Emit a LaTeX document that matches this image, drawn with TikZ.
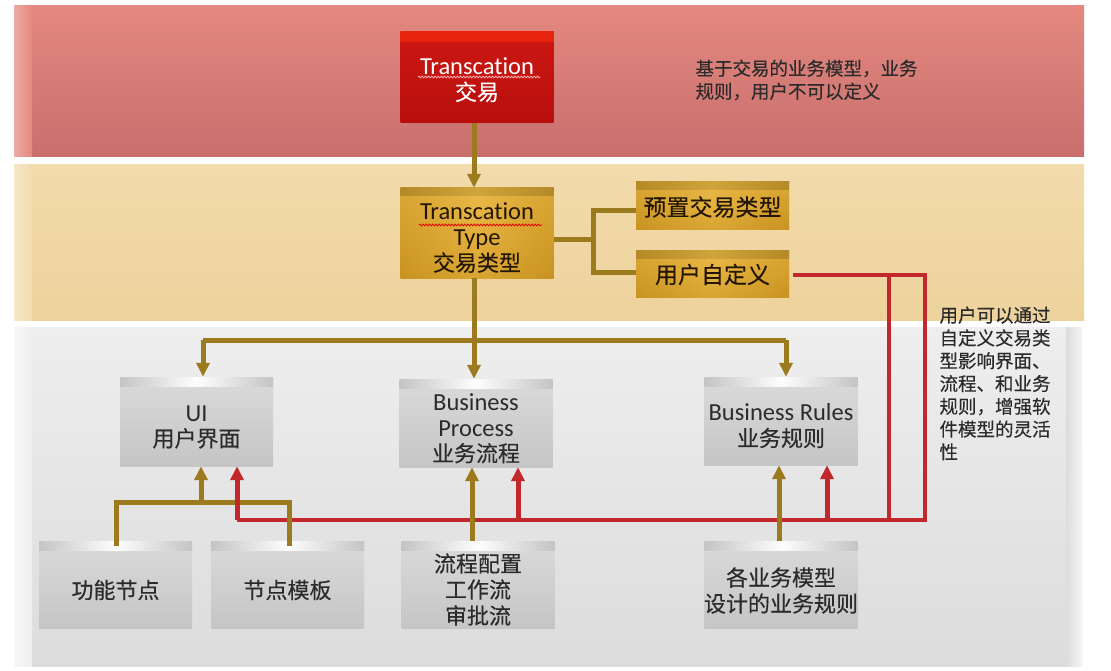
\documentclass[tikz,border=0pt]{standalone}
\usepackage{fontspec}
\setmainfont{Carlito}[Ligatures={NoCommon}]
\newfontfamily\cjk{Noto Sans CJK SC}[FakeBold=0.3]
\usetikzlibrary{arrows.meta,decorations.pathmorphing}
\definecolor{RbT}{HTML}{E4887F}
\definecolor{RbB}{HTML}{C86F6E}
\definecolor{TbT}{HTML}{F2DBAC}
\definecolor{TbB}{HTML}{EDD29C}
\definecolor{GbT}{HTML}{EEEEEE}
\definecolor{GbB}{HTML}{DCDCDC}
\definecolor{RedTop}{HTML}{E8240E}
\definecolor{RedA}{HTML}{CC1712}
\definecolor{RedB}{HTML}{B80F0E}
\definecolor{GoldTop}{HTML}{B48A28}
\definecolor{GoldTopM}{HTML}{CFA43C}
\definecolor{GoldA}{HTML}{DDA832}
\definecolor{GoldB}{HTML}{EAB948}
\definecolor{GoldC}{HTML}{C8921E}
\definecolor{GoldE}{HTML}{C99424}
\definecolor{GrTop}{HTML}{C4C4C4}
\definecolor{GrA}{HTML}{DADADA}
\definecolor{GrB}{HTML}{C5C5C5}
\definecolor{Brn}{HTML}{9C7B1E}
\definecolor{Rdl}{HTML}{C2282B}
\definecolor{TxtD}{HTML}{2B2B2B}
\definecolor{TxtG}{HTML}{241604}
\begin{document}
\begin{tikzpicture}[x=1pt,y=-1pt,
  box/.style={inner sep=0pt,minimum width=#1},
  box/.default=153pt,
  redbox/.style={box,top color=RedA,bottom color=RedB,
    path picture={\shade[top color=RedTop,bottom color=RedA]
      (path picture bounding box.north west) rectangle ([yshift=-10pt]path picture bounding box.north east);}},
  goldbox/.style={box,top color=GoldB,bottom color=GoldC,middle color=GoldA,
    path picture={
      \shade[left color=GoldE,right color=GoldE,middle color=GoldB,opacity=0.5]
        (path picture bounding box.south west) rectangle (path picture bounding box.north east);
      \shade[left color=GoldTop,right color=GoldTop,middle color=GoldTopM]
      (path picture bounding box.north west) rectangle ([yshift=-8pt]path picture bounding box.north east);}},
  graybox/.style={box,top color=GrA,bottom color=GrB,
    path picture={\shade[left color=GrTop,right color=GrTop,middle color=white!96!GrA]
      (path picture bounding box.north west) rectangle ([yshift=-9pt]path picture bounding box.north east);}},
  txt/.style={inner sep=0pt,align=center},
  lat/.style={txt,font=\fontsize{24.5}{25.5}\selectfont},
  zh/.style={txt,font=\cjk\fontsize{22}{26}\selectfont},
  brn/.style={draw=Brn,line width=5pt},
  brnA/.style={brn,-{Triangle[width=13pt,length=14pt]}},
  rd/.style={draw=Rdl,line width=4pt},
  rdA/.style={draw=Rdl,line width=5pt,-{Triangle[width=13pt,length=14pt]}},
  squig/.style={line width=0.8pt,decorate,decoration={snake,amplitude=0.9pt,segment length=3.2pt}}
]
\useasboundingbox (0,0) rectangle (1111,671);
\fill[white] (0,0) rectangle (1111,671);
% bands
\shade[top color=RbT,bottom color=RbB] (14,6) rectangle (1084,157);
\shade[left color=white!30!RbT,right color=RbT] (14,6) rectangle (32,157);
\shade[top color=TbT,bottom color=TbB] (14,165) rectangle (1084,320);
\shade[left color=white!35!TbT,right color=TbT] (14,165) rectangle (32,320);
\shade[top color=GbT,bottom color=GbB] (14,327) rectangle (1082,666);
\shade[left color=white!55!GbT,right color=GbT] (14,327) rectangle (32,666);
\shade[left color=GbB,right color=white!45!GbT] (1066,327) rectangle (1082,666);

% boxes
\node[redbox,minimum height=91pt] (tr) at (477,77.5) {};
\node[goldbox,minimum height=90pt] (tt) at (477,233) {};
\node[goldbox,minimum height=48pt] (pre) at (712.5,206) {};
\node[goldbox,minimum height=47pt] (ud) at (712.5,273.5) {};
\node[graybox,minimum height=89pt] (ui) at (196.5,421.5) {};
\node[graybox=154pt,minimum height=88pt] (bp) at (476,423) {};
\node[graybox=178pt,minimum height=88pt] (br) at (781,421) {};
\node[graybox,minimum height=87pt] (f1) at (115.5,585) {};
\node[graybox,minimum height=87pt] (f2) at (287.5,585) {};
\node[graybox=152pt,minimum height=87pt] (f3) at (478,585) {};
\node[graybox=178pt,minimum height=87pt] (f4) at (781,585) {};

% box texts
\node[lat,text=white] (trt) at ([yshift=-2.5pt]tr.center)
  {Transcation\\{\cjk\fontsize{22}{26}\selectfont 交易}};
\node[lat,text=TxtG] (ttt) at ([yshift=-5pt]tt.center)
  {Transcation\\Type\\{\cjk\fontsize{22}{25}\selectfont 交易类型}};
\node[zh,text=TxtG,font=\cjk\fontsize{23}{26}\selectfont] (pret) at ([yshift=-1pt]pre.center) {预置交易类型};
\node[zh,text=TxtG,font=\cjk\fontsize{23}{26}\selectfont] (udt) at ([yshift=-1pt]ud.center) {用户自定义};
\node[lat,text=TxtD] (uit) at ([yshift=-5.5pt]ui.center) {UI\\{\cjk\fontsize{22}{26}\selectfont 用户界面}};
\node[lat,text=TxtD] (bpt) at ([yshift=-5.5pt]bp.center) {Business\\Process\\{\cjk\fontsize{22}{26}\selectfont 业务流程}};
\node[lat,text=TxtD] (brt) at ([yshift=-5pt]br.center) {Business Rules\\{\cjk\fontsize{22}{26}\selectfont 业务规则}};
\node[zh,text=TxtD] (f1t) at ([yshift=-5pt]f1.center) {功能节点};
\node[zh,text=TxtD] (f2t) at ([yshift=-5pt]f2.center) {节点模板};
\node[zh,text=TxtD] (f3t) at ([yshift=-4.5pt]f3.center) {流程配置\\工作流\\审批流};
\node[zh,text=TxtD] (f4t) at ([yshift=-5.5pt]f4.center) {各业务模型\\设计的业务规则};

% notes
\node[anchor=west,align=left,text=TxtD,font=\cjk\fontsize{18.5}{23}\selectfont] (note1) at (692,80)
  {基于交易的业务模型，业务\\规则，用户不可以定义};
\node[anchor=north west,align=left,text=TxtD,font=\cjk\fontsize{18.5}{22.8}\selectfont] (note2) at (936,303)
  {用户可以通过\\自定义交易类\\型影响界面、\\流程、和业务\\规则，增强软\\件模型的灵活\\性};

% spell-check squiggles
\draw[squig,draw=white!70!red] (418,77) -- (540,77);
\draw[squig,draw=red!90!black] (419,225) -- (542,225);

% coordinates
\coordinate (bx) at (474,340);
\coordinate (hL) at (203,340);
\coordinate (hR) at (786,340);
\coordinate (bj) at (593,240);
\coordinate (bt) at (593,211);
\coordinate (bb) at (593,272);
\coordinate (rj1) at (889,275);
\coordinate (rj2) at (925,275);
\coordinate (rb1) at (889,520);
\coordinate (rb2) at (925,520);
\coordinate (rL) at (237,520);
\coordinate (rM) at (518,520);
\coordinate (rR) at (827,520);
\coordinate (gl) at (116,502);
\coordinate (gr) at (289,502);
\coordinate (gm) at (201,502);
\coordinate (gp) at (472,530);
\coordinate (gq) at (779,530);

% red main lines
\draw[rd] ([xshift=4pt]rj2 -| ud.east) -- (rj2) -- (rb2) -- (rL);
\draw[rd] (rj1) -- (rb1);

% brown connectors
\draw[brnA] (bx |- tr.south) -- (bx |- tt.north);
\draw[brn] (bx |- tt.south) -- (bx);
\draw[brn] (hL) -- (hR);
\draw[brnA] (hL) -- (hL |- ui.north);
\draw[brnA] (bx) -- (bx |- bp.north);
\draw[brnA] (hR) -- (hR |- br.north);
\draw[brn] (bj -| tt.east) -- (bj);
\draw[brn] (bt -| pre.west) -- (bt) -- (bb) -- (bb -| ud.west);
\draw[brn] ([yshift=-5pt]gl |- f1.north) -- (gl) -- (gr) -- ([yshift=-5pt]gr |- f2.north);
\draw[brnA] (gm) -- (gm |- ui.south);
\draw[brnA] (gp |- f3.north) -- (gp |- bp.south);
\draw[brnA] (gq |- f4.north) -- (gq |- br.south);

% red arrows
\draw[rdA] (rL) -- (rL |- ui.south);
\draw[rdA] (rM) -- (rM |- bp.south);
\draw[rdA] (rR) -- (rR |- br.south);
\end{tikzpicture}
\end{document}
